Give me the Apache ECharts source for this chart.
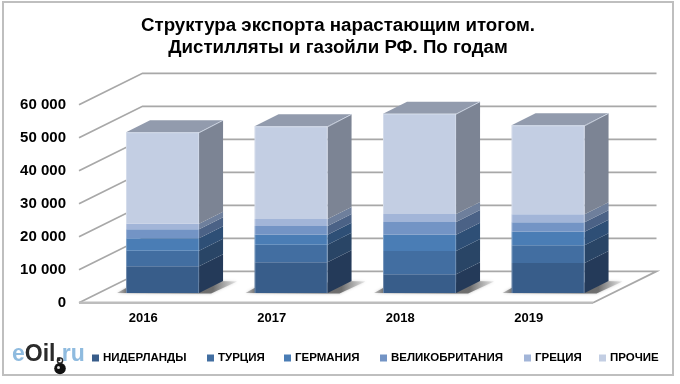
<!DOCTYPE html>
<html><head><meta charset="utf-8">
<style>html,body{margin:0;padding:0;background:#fff}#c{width:680px;height:384px}</style>
<script src="https://cdn.jsdelivr.net/npm/echarts@6/dist/echarts.min.js"></script>
</head><body><div id="c"></div>
<script>
const years = ['2016','2017','2018','2019'];
const yTicks = [0,10000,20000,30000,40000,50000,60000];
const niderlandy = [8080,9290,5660,9090];
const turtsiya = [4750,5350,7070,5350];
const germaniya = [3740,3030,4950,4140];
const velikobritaniya = [2730,2630,3840,2830];
const gretsiya = [1720,2120,2420,2420];
const prochie = [27680,28080,30400,26970];
const seriesNames = ['НИДЕРЛАНДЫ','ТУРЦИЯ','ГЕРМАНИЯ','ВЕЛИКОБРИТАНИЯ','ГРЕЦИЯ','ПРОЧИЕ'];
const seriesValues = [niderlandy,turtsiya,germaniya,velikobritaniya,gretsiya,prochie];
const frontColors = ['#385D8A','#426EA1','#4A7DB5','#7394C5','#A2B5D8','#C3CEE3'];
const sideColors = ['#243A59','#294566','#2E4F76','#4B6286','#6E7F9C','#7C8494'];
const legendLeft = [92,207,284,380,524,599];
const topColor = '#929BAD';
const gridColor = '#A8A8A8';

const DEPTH = {x:63.5, y:-31.4};
const BAR0 = {x:19.3, y:-9.7};
const BARD = {x:24, y:-12};
const BARW = 73;

const font = 'Liberation Sans, Arial, sans-serif';
let cumulative = years.map(()=>0);
const stacked = seriesValues.map(vals => vals.map((v,i)=>{
  const b = cumulative[i]; cumulative[i]+=v; return [i,b,cumulative[i]];
}));
const poly = (points, style)=>({type:'polygon', shape:{points}, style});

const series = [
  {
    type:'custom', name:'grid', silent:true, z:1, clip:false, legendHoverLink:false,
    data: yTicks.map(t=>[0,t]),
    encode:{x:0,y:1},
    renderItem:(p,api)=>{
      const x0 = p.coordSys.x, x1 = x0+p.coordSys.width;
      const y = api.coord([0,api.value(1)])[1];
      if(api.value(1)===0){
        return {type:'group',children:[
          {type:'polyline',shape:{points:[[x0,y],[x0+DEPTH.x,y+DEPTH.y],[x1+DEPTH.x,y+DEPTH.y],[x1,y]]},style:{stroke:gridColor,lineWidth:1.8,fill:null}},
          {type:'line',shape:{x1:x0,y1:y,x2:x1,y2:y},style:{stroke:'#BDBDBD',lineWidth:2.4}}
        ]};
      }
      return {type:'polyline',shape:{points:[[x0,y],[x0+DEPTH.x,y+DEPTH.y],[x1+DEPTH.x,y+DEPTH.y]]},style:{stroke:gridColor,lineWidth:1.8,fill:null}};
    }
  },
  {
    type:'custom', name:'shadow', silent:true, z:2, clip:false, legendHoverLink:false,
    data: years.map((_,i)=>[i,0]), encode:{x:0,y:1},
    renderItem:(p,api)=>{
      const c = api.coord([api.value(0),0]);
      const xl = c[0]+BAR0.x-BARW/2, xr = xl+BARW, yb = c[1]+BAR0.y;
      return poly([[xl-9,yb],[xr,yb+.5],[xr+12,yb+.5],[xr+BARD.x+14,yb+BARD.y+.5],[xr+BARD.x-4,yb+BARD.y],[xl,yb-5]],
        {fill:new echarts.graphic.LinearGradient(0,0,1,0,[{offset:0,color:'rgba(140,140,140,0.5)'},{offset:0.1,color:'rgba(85,85,85,0.9)'},{offset:0.8,color:'rgba(95,95,95,0.85)'},{offset:1,color:'rgba(190,190,190,0.35)'}]),shadowBlur:3,shadowColor:'rgba(110,110,110,0.5)'});
    }
  }
];
seriesNames.forEach((name,si)=>{
  const last = si===seriesNames.length-1;
  series.push({
    type:'custom', name, z:3+si, clip:false,
    itemStyle:{color:frontColors[si]},
    data: stacked[si], encode:{x:0,y:[1,2]},
    renderItem:(p,api)=>{
      const c0 = api.coord([api.value(0),api.value(1)]);
      const c1 = api.coord([api.value(0),api.value(2)]);
      const xl = c0[0]+BAR0.x-BARW/2, xr = xl+BARW;
      const yb = c0[1]+BAR0.y, yt = c1[1]+BAR0.y;
      const kids = [
        poly([[xr,yb],[xr+BARD.x,yb+BARD.y],[xr+BARD.x,yt+BARD.y],[xr,yt]],{fill:sideColors[si]}),
        {type:'rect',shape:{x:xl,y:yt,width:BARW,height:yb-yt},style:{fill:frontColors[si]}}
      ];
      if(last){
        kids.push(poly([[xl,yt],[xl+BARD.x,yt+BARD.y],[xr+BARD.x,yt+BARD.y],[xr,yt]],{fill:topColor}));
        kids.push({type:'polyline',shape:{points:[[xl+.5,yt+.5],[xr,yt+.5],[xr+BARD.x,yt+BARD.y]]},style:{stroke:'#D6DEEC',lineWidth:1,fill:null,opacity:.8}});
      }
      kids.push({type:'line',shape:{x1:xl+.5,y1:yb,x2:xl+.5,y2:yt},style:{stroke:'rgba(255,255,255,0.28)',lineWidth:1}});
      kids.push({type:'line',shape:{x1:xr-.5,y1:yb,x2:xr-.5,y2:yt},style:{stroke:'rgba(255,255,255,0.22)',lineWidth:1}});
      return {type:'group',children:kids};
    }
  });
});

const chart = echarts.init(document.getElementById('c'),null,{renderer:'canvas'});
chart.setOption({
  animation:false,
  backgroundColor:'#fff',
  title:{
    text:'Структура экспорта нарастающим итогом.\nДистилляты и газойли РФ. По годам',
    left:333, top:10, textAlign:'center',
    textStyle:{fontFamily:font,fontWeight:'bold',fontSize:18.7,lineHeight:22,color:'#000'}
  },
  grid:{left:79,top:104.7,width:514,height:198,containLabel:false},
  xAxis:{type:'category',data:years,
    axisLine:{show:false},axisTick:{show:false},splitLine:{show:false},
    axisLabel:{margin:9,fontFamily:font,fontWeight:'bold',fontSize:13,color:'#000'}},
  yAxis:{type:'value',min:0,max:60000,interval:10000,
    axisLine:{show:false},axisTick:{show:false},splitLine:{show:false},
    axisLabel:{margin:13,fontFamily:font,fontWeight:'bold',fontSize:15,color:'#000',
      formatter:v=>v===0?'0':String(v).replace(/\B(?=(\d{3})+$)/g,' ')}},
  legend: seriesNames.map((n,i)=>({
    data:[n], left:legendLeft[i], top:352, padding:0, itemWidth:7, itemHeight:7, icon:'rect',
    textStyle:{fontFamily:font,fontWeight:'bold',fontSize:11.5,color:'#000',padding:[0,0,0,-1]},
    selectedMode:false
  })),
  graphic:[
    {type:'rect',z:-1,shape:{x:3,y:2,width:670,height:373},style:{fill:'#fff',stroke:'#BFBFBF',lineWidth:2}},
    {type:'text',z:10,left:12,top:343,style:{
      text:'{a|e}{b|Oil.}{a|ru}',
      rich:{a:{fill:'#8FBBDF',fontFamily:font,fontSize:23,fontWeight:'bold'},
            b:{fill:'#2b2b2b',fontFamily:font,fontSize:23,fontWeight:'bold'}}
    }},
    {type:'circle',z:11,shape:{cx:60,cy:368.5,r:5.8},style:{fill:'#111'}},
    {type:'circle',z:11,shape:{cx:60,cy:360.5,r:2.6},style:{fill:'none',stroke:'#222',lineWidth:1.4}},
    {type:'circle',z:12,shape:{cx:58.5,cy:367.5,r:1.5},style:{fill:'#ddd'}}
  ],
  series
});
</script></body></html>
